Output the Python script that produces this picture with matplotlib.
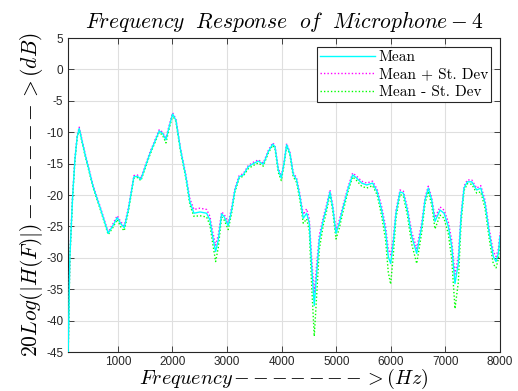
import numpy as np
import matplotlib
matplotlib.use("Agg")
import matplotlib.pyplot as plt

# Frequency (Hz) and mean response (dB)
freq = [86, 120, 170, 212, 254, 291, 395, 547, 670, 822, 914, 987, 1055, 1116,
        1190, 1293, 1354, 1421, 1586, 1757, 1819, 1880, 1940, 2002, 2063, 2148,
        2246, 2319, 2393, 2503, 2625, 2686, 2735, 2790, 2838, 2900, 2948, 3021,
        3083, 3144, 3223, 3296, 3388, 3480, 3571, 3663, 3755, 3835, 3877, 3938,
        3993, 4042, 4091, 4152, 4212, 4274, 4335, 4396, 4458, 4506, 4549, 4597,
        4641, 4689, 4762, 4824, 4885, 4934, 4995, 5055, 5128, 5220, 5300, 5373,
        5465, 5557, 5666, 5750, 5831, 5904, 5953, 5996, 6044, 6094, 6168, 6229,
        6302, 6382, 6474, 6565, 6626, 6686, 6748, 6809, 6901, 6974, 7053, 7115,
        7175, 7236, 7286, 7341, 7401, 7482, 7573, 7647, 7725, 7804, 7877, 7927,
        7969, 8000]
mean_db = [-46.5, -29.8, -20.3, -14.4, -10.7, -9.4, -13.4, -18.7, -21.9, -26.1,
           -24.8, -23.6, -24.6, -25.2, -22.4, -17.1, -17.0, -17.5, -13.4, -9.8,
           -10.2, -11.2, -9.1, -7.1, -8.1, -12.8, -17.1, -21.1, -22.9, -22.7,
           -22.9, -24.0, -26.6, -29.0, -27.2, -23.0, -23.5, -24.9, -22.4, -19.2,
           -17.1, -16.8, -15.5, -15.0, -14.6, -15.1, -13.1, -11.9, -12.3, -16.0,
           -17.3, -15.0, -12.0, -13.4, -16.7, -17.6, -20.3, -23.7, -22.9, -24.5,
           -31.4, -37.6, -32.5, -27.2, -24.0, -21.9, -19.5, -21.9, -26.1, -24.5,
           -21.9, -18.9, -16.8, -17.3, -18.1, -18.4, -18.1, -19.5, -22.4, -25.8,
           -29.8, -30.9, -27.7, -22.9, -19.5, -19.7, -22.4, -26.6, -29.3, -25.0,
           -20.8, -18.9, -20.8, -24.2, -22.4, -22.9, -25.0, -28.2, -34.1, -30.9,
           -23.5, -18.9, -17.9, -17.9, -19.2, -18.9, -21.3, -26.1, -29.8, -30.6,
           -29.3, -26.6]
# deviation above / below the mean (dB)
dev_up = [0.3, 0.3, 0.2, 0.2, 0.2, 0.2, 0.2, 0.2, 0.2, 0.2,
          0.3, 0.3, 0.3, 0.3, 0.3, 0.2, 0.2, 0.2, 0.2, 0.2,
          0.2, 0.3, 0.2, 0.2, 0.2, 0.2, 0.3, 0.5, 0.6, 0.6,
          0.6, 0.6, 0.8, 1.0, 0.8, 0.3, 0.4, 0.5, 0.4, 0.3,
          0.2, 0.2, 0.2, 0.2, 0.2, 0.2, 0.2, 0.2, 0.2, 0.3,
          0.3, 0.2, 0.2, 0.2, 0.3, 0.3, 0.4, 0.6, 0.7, 0.7,
          1.5, 2.0, 1.5, 0.8, 0.5, 0.4, 0.3, 0.4, 0.6, 0.5,
          0.4, 0.3, 0.3, 0.3, 0.3, 0.3, 0.3, 0.4, 0.6, 0.8,
          1.2, 1.4, 0.8, 0.5, 0.3, 0.3, 0.5, 0.7, 0.8, 0.6,
          0.4, 0.3, 0.4, 0.6, 0.5, 0.5, 0.7, 1.0, 1.5, 1.2,
          0.5, 0.3, 0.3, 0.3, 0.3, 0.4, 0.5, 0.6, 0.8, 0.8,
          0.7, 0.6]
dev_down = [0.3, 0.3, 0.2, 0.2, 0.2, 0.2, 0.2, 0.2, 0.2, 0.2,
            0.3, 0.3, 0.5, 0.5, 0.3, 0.2, 0.2, 0.2, 0.2, 0.2,
            0.3, 0.5, 0.3, 0.2, 0.2, 0.3, 0.3, 0.5, 0.5, 0.6,
            0.6, 0.8, 1.0, 1.6, 1.2, 0.5, 0.5, 0.6, 0.5, 0.3,
            0.2, 0.2, 0.3, 0.3, 0.3, 0.3, 0.2, 0.2, 0.3, 0.4,
            0.4, 0.3, 0.2, 0.3, 0.4, 0.4, 0.6, 0.8, 0.9, 1.2,
            3.0, 4.9, 3.5, 1.5, 0.8, 0.6, 0.4, 0.6, 0.9, 0.8,
            0.6, 0.4, 0.3, 0.4, 0.5, 0.5, 0.4, 0.5, 0.9, 1.4,
            2.5, 3.3, 2.0, 0.8, 0.4, 0.5, 0.8, 1.2, 1.6, 1.0,
            0.6, 0.5, 0.8, 1.2, 0.8, 0.8, 1.2, 2.0, 4.0, 3.0,
            1.0, 0.4, 0.3, 0.4, 0.5, 0.6, 0.8, 1.0, 1.2, 1.0,
            0.9, 0.8]

x_ticks = [1000, 2000, 3000, 4000, 5000, 6000, 7000, 8000]
y_ticks = [5, 0, -5, -10, -15, -20, -25, -30, -35, -40, -45]

f = np.array(freq, dtype=float)
m = np.array(mean_db)
up = m + np.array(dev_up)
lo = m - np.array(dev_down)

plt.rcParams['mathtext.fontset'] = 'cm'
plt.rcParams['font.family'] = ['Liberation Sans', 'DejaVu Sans']

fig = plt.figure(figsize=(5.18, 3.91), dpi=100)
ax = fig.add_axes([0.1313, 0.0997, 0.8340, 0.8031])

ax.plot(f, m, color='#00FFFF', lw=1.0, label='Mean', zorder=4)
ax.plot(f, up, color='#FF00FF', lw=1.0, ls=(0, (1, 1.5)), label='Mean + St. Dev', zorder=3)
ax.plot(f, lo, color='#00FF00', lw=1.0, ls=(0, (1, 1.5)), label='Mean - St. Dev', zorder=3)

ax.set_xlim(86, 8000)
ax.set_ylim(-45, 5)
ax.set_xticks(x_ticks)
ax.set_yticks(y_ticks)
ax.set_xticklabels([str(t) for t in x_ticks])
ax.set_yticklabels([str(t) for t in y_ticks])
ax.tick_params(direction='in', top=True, right=True, labelsize=8.5, length=4,
               width=0.6, colors='#262626')
ax.tick_params(axis='x', pad=3)
ax.grid(True, color='#DFDFDF', lw=0.8)
ax.set_axisbelow(True)
for s in ax.spines.values():
    s.set_color('#262626')
    s.set_linewidth(0.8)

ax.set_title(r'$Frequency\ \ Response\ \ of\ \ Microphone-4$',
             fontsize=15.5, pad=7)
ax.set_xlabel(r'$Frequency\,' + r'{-}\,' * 7 + r'>(Hz)$', fontsize=14.5, labelpad=-1)
ax.set_ylabel(r'$20Log(|H(F)|)\,' + r'{-}\,' * 6 + r'>(dB)$', fontsize=15.5, labelpad=1)

leg = ax.legend(loc='upper right', frameon=True, fancybox=False,
                edgecolor='#262626', framealpha=1, borderpad=0.2,
                labelspacing=0.25, handlelength=3.6, handletextpad=0.25,
                borderaxespad=0.6, prop={'family': 'cmr10', 'size': 11})
leg.get_frame().set_linewidth(0.8)

fig.savefig('out.png', dpi=100)
